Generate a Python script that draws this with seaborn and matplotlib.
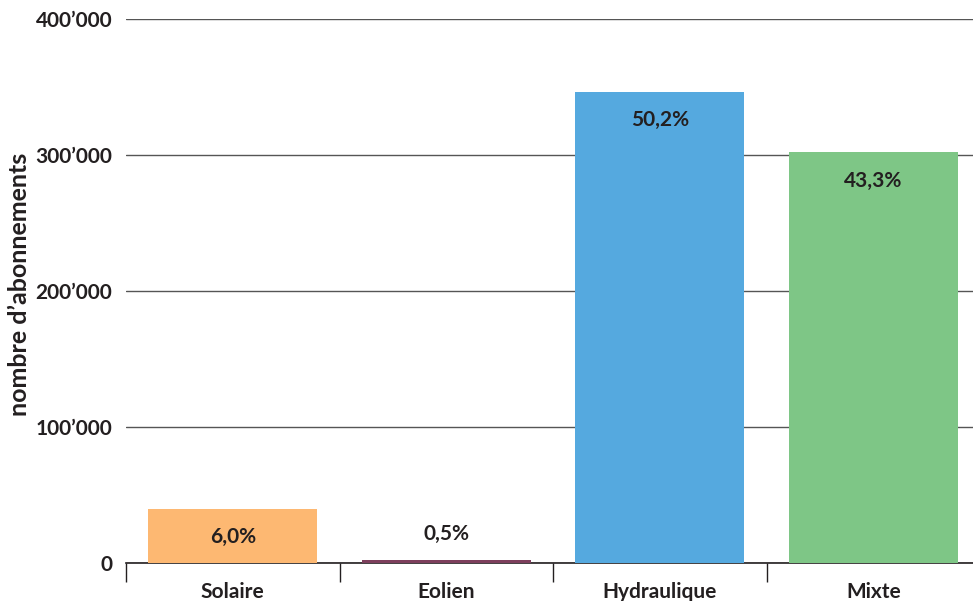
import numpy as np
import pandas as pd
import seaborn as sns
import matplotlib.pyplot as plt
from matplotlib.ticker import FixedLocator

types = ['Solaire', 'Eolien', 'Hydraulique', 'Mixte']
abonnements = [40000, 2000, 346500, 302000]
parts = ['6,0%', '0,5%', '50,2%', '43,3%']
couleurs = ['#FDB872', '#7D3F5C', '#55A9DF', '#7EC686']
yticks = [0, 100000, 200000, 300000, 400000]
ytick_labels = ['0', '100’000', '200’000', '300’000', '400’000']

sns.set_style('white')
plt.rcParams['font.family'] = ['Lato', 'DejaVu Sans']
plt.rcParams['font.weight'] = 'bold'

df = pd.DataFrame({'type': types, 'n': abonnements})

fig = plt.figure(figsize=(9.73, 6.01), dpi=100)
ax = fig.add_axes([126 / 973, 38 / 601, 854 / 973, 544 / 601])

sns.barplot(data=df, x='type', y='n', hue='type', palette=couleurs,
            width=0.79, saturation=1, legend=False, ax=ax, zorder=3,
            linewidth=0)

ax.set_ylim(0, 400000)
ax.set_xlim(-0.5, 3.5)
ax.set_yticks(yticks)
ax.set_yticklabels(ytick_labels, fontsize=15, fontweight='bold', color='#231f20')
ax.yaxis.grid(True, color='#555555', linewidth=1)
ax.set_axisbelow(True)
ax.tick_params(axis='y', length=0, pad=10)

for s in ['left', 'right', 'top']:
    ax.spines[s].set_visible(False)
ax.spines['bottom'].set_color('#231f20')
ax.spines['bottom'].set_linewidth(1.2)

ax.set_xticks(range(len(types)))
ax.set_xticklabels(types, fontsize=15, fontweight='bold', color='#231f20')
ax.tick_params(axis='x', which='major', bottom=False, pad=10)
ax.xaxis.set_minor_locator(FixedLocator(np.arange(-0.5, 4, 1)))
ax.tick_params(axis='x', which='minor', bottom=True, length=14, width=1,
               color='#231f20', direction='out')

for i, (v, p) in enumerate(zip(abonnements, parts)):
    if v > 20000:
        ax.text(i, v - 21000, p, ha='center', va='center', fontsize=15,
                fontweight='bold', color='#231f20', zorder=4)
    else:
        ax.text(i, v + 19000, p, ha='center', va='center', fontsize=15,
                fontweight='bold', color='#231f20', zorder=4)

ax.set_xlabel('')
ax.set_ylabel('nombre d’abonnements', fontsize=18, fontweight='bold',
              color='#231f20')
ax.yaxis.set_label_coords(-0.111, 0.513)

fig.savefig('out.png', dpi=100)
